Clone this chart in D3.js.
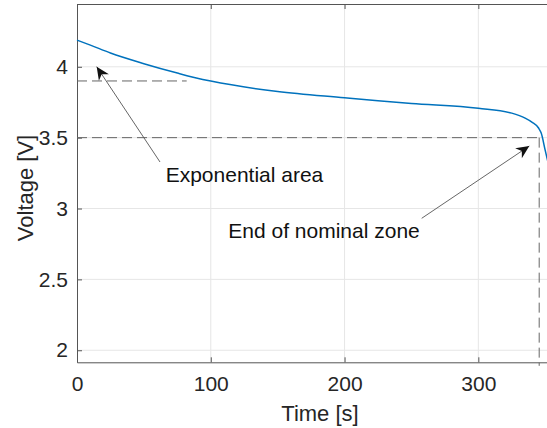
<!DOCTYPE html>
<html>
<head>
<meta charset="utf-8">
<script src="https://cdn.jsdelivr.net/npm/d3@7"></script>
<style>
  body { margin: 0; background: #fff; }
  svg { display: block; font-family: Helvetica, "Liberation Sans", Arial, sans-serif; }
</style>
</head>
<body>
<div class="canvas"></div>
<script>
// data
const timeS    = [0, 10, 25, 50, 75, 94, 100, 150, 200, 225, 250, 300, 325, 335, 340, 345, 347, 350, 352];
const voltageV = [4.188, 4.153, 4.097, 4.022, 3.956, 3.911, 3.899, 3.825, 3.781, 3.760, 3.741, 3.707, 3.673, 3.638, 3.610, 3.568, 3.532, 3.41, 3.33];

const xTicks = [0, 100, 200, 300];
const yTicks = [2, 2.5, 3, 3.5, 4];

// reference levels (dashed)
const expLevel = 3.9, expEnd = 82;
const nomLevel = 3.5, nomEnd = 345.5;

const svgWidth = 547;
const svgHeight = 428;

// plot box, right side runs past the picture
const margin = {top: 4, left: 77, bottom: 428 - 362.3};
const plotRight = 558.6;

const svg = d3.select('.canvas')
  .append('svg')
  .attr('width', svgWidth)
  .attr('height', svgHeight);

const x = d3.scaleLinear().domain([0, 360]).range([margin.left, plotRight]);
const y = d3.scaleLinear().domain([1.915, 4.443]).range([362.3, margin.top]);

const grid = svg.append('g');
grid.selectAll('.gx').data(xTicks.slice(1)).enter().append('line')
  .attr('x1', d => x(d)).attr('x2', d => x(d))
  .attr('y1', y.range()[1]).attr('y2', y.range()[0])
  .attr('stroke', '#e6e6e6').attr('stroke-width', 1);
grid.selectAll('.gy').data(yTicks).enter().append('line')
  .attr('x1', margin.left).attr('x2', plotRight)
  .attr('y1', d => y(d)).attr('y2', d => y(d))
  .attr('stroke', '#e6e6e6').attr('stroke-width', 1);

// axes (ticks point inward like matlab)
const axisColor = '#555';
const xAxis = d3.axisBottom(x).tickValues(xTicks).tickSize(-5).tickPadding(14).tickSizeOuter(0);
const yAxis = d3.axisLeft(y).tickValues(yTicks).tickSize(-5).tickPadding(9).tickSizeOuter(0)
  .tickFormat(d3.format('~g'));
const xTop = d3.axisTop(x).tickValues(xTicks).tickSize(-5).tickFormat('').tickSizeOuter(0);

const xAxisGroup = svg.append('g').attr('transform', `translate(0, ${y.range()[0]})`).call(xAxis);
const yAxisGroup = svg.append('g').attr('transform', `translate(${margin.left}, 0)`).call(yAxis);
const xTopGroup = svg.append('g').attr('transform', `translate(0, ${margin.top})`).call(xTop);

[xAxisGroup, yAxisGroup, xTopGroup].forEach(g => {
  g.selectAll('path, line').attr('stroke', axisColor);
  g.selectAll('text').attr('fill', '#262626').attr('font-size', '21px')
    .attr('font-family', 'Helvetica, "Liberation Sans", Arial, sans-serif');
});
xAxisGroup.selectAll('text').attr('dy', '0.71em');

// dashed reference lines
const dash = '10,5';
svg.append('line')
  .attr('x1', x(0)).attr('x2', x(expEnd))
  .attr('y1', y(expLevel)).attr('y2', y(expLevel))
  .attr('stroke', '#666').attr('stroke-width', 1).attr('stroke-dasharray', dash);
svg.append('line')
  .attr('x1', x(0)).attr('x2', x(nomEnd))
  .attr('y1', y(nomLevel)).attr('y2', y(nomLevel))
  .attr('stroke', '#666').attr('stroke-width', 1).attr('stroke-dasharray', dash);
svg.append('line')
  .attr('x1', x(nomEnd)).attr('x2', x(nomEnd))
  .attr('y1', y(nomLevel)).attr('y2', y(1.89))
  .attr('stroke', '#666').attr('stroke-width', 1).attr('stroke-dasharray', dash);

// voltage curve
const line = d3.line()
  .x((d, i) => x(timeS[i]))
  .y(d => y(d))
  .curve(d3.curveMonotoneX);

svg.append('path')
  .datum(voltageV)
  .attr('fill', 'none')
  .attr('stroke', '#0072BD')
  .attr('stroke-width', 1.5)
  .attr('d', line);

// arrowhead marker
svg.append('defs').append('marker')
  .attr('id', 'head')
  .attr('markerUnits', 'userSpaceOnUse')
  .attr('viewBox', '-14 -7 16 14')
  .attr('markerWidth', 16).attr('markerHeight', 14)
  .attr('refX', 0).attr('refY', 0)
  .attr('orient', 'auto')
  .append('path')
  .attr('d', 'M0,0 L-13,-6 L-9,0 L-13,6 Z')
  .attr('fill', '#111');

// annotations
const arrows = [
  {x1: 160, y1: 162, x2: 96.7, y2: 66.7},
  {x1: 421.7, y1: 218.3, x2: 529.3, y2: 146}
];
svg.selectAll('.arrow').data(arrows).enter().append('line')
  .attr('x1', d => d.x1).attr('y1', d => d.y1)
  .attr('x2', d => d.x2).attr('y2', d => d.y2)
  .attr('stroke', '#555').attr('stroke-width', 0.9)
  .attr('marker-end', 'url(#head)');

svg.append('text').text('Exponential area')
  .attr('x', 165.7).attr('y', 181.7)
  .attr('font-size', '21px').attr('fill', '#111');
svg.append('text').text('End of nominal zone')
  .attr('x', 228.3).attr('y', 238.3)
  .attr('font-size', '21px').attr('fill', '#111');

// axis labels
svg.append('text').text('Time [s]')
  .attr('x', 320).attr('y', 421)
  .attr('text-anchor', 'middle')
  .attr('font-size', '22px').attr('fill', '#262626');
svg.append('text').text('Voltage [V]')
  .attr('transform', 'translate(33, 188) rotate(-90)')
  .attr('text-anchor', 'middle')
  .attr('font-size', '22px').attr('fill', '#262626');
</script>
</body>
</html>
